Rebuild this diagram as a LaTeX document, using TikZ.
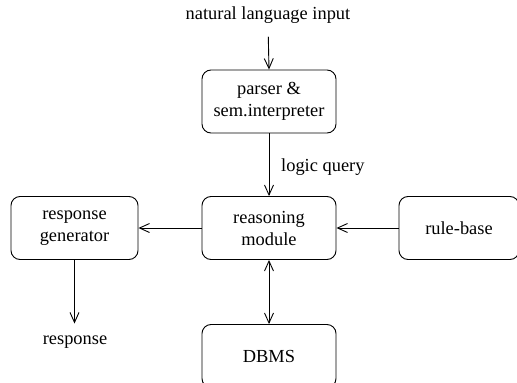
\documentclass[tikz,border=0pt]{standalone}
\usepackage{fontspec}
\setmainfont{Liberation Serif}
\usepackage{tikz}
\usetikzlibrary{arrows.meta}
\tikzstyle{box} = [draw, rounded corners=9pt, line width=0.9pt, minimum width=134pt,
	minimum height=63pt, align=center, inner sep=0pt]
\tikzstyle{arrow} = [line width=0.9pt, >={Straight Barb[length=10pt,width=9pt]}, ->]
\tikzstyle{darrow} = [arrow, <->]
\tikzstyle{label} = [inner sep=0pt]

\begin{document}
\begin{tikzpicture}[x=1pt,y=-1pt,font=\fontsize{18.4}{22}\selectfont]
	\useasboundingbox (0,0) rectangle (517,383);
	% boxes
	\node[box] (parser) at (269,101.5) {parser \&\\sem.interpreter};
	\node[box] (reason) at (269,228) {reasoning\\module};
	\node[box, minimum width=127pt] (gen) at (74.5,228) {response\\generator};
	\node[box, minimum width=120pt] (rule) at (459,228) {rule-base};
	\node[box] (dbms) at (269,356) {DBMS};

	% texts
	\node[label] (input) at (268,15) {natural language input};
	\node[label] (resp) at (75,342) {response};
	\node[label, anchor=west] (query) at (281,167) {logic query};

	% connectors
	\draw[arrow, shorten <=13pt] (input.south) -- (parser.north);
	\draw[arrow] (parser.south) -- (reason.north);
	\draw[arrow] (rule.west) -- (reason.east);
	\draw[arrow] (reason.west) -- (gen.east);
	\draw[arrow, shorten >=12pt] (gen.south) -- (gen.south |- resp.north);
	\draw[darrow] (reason.south) -- (dbms.north);
\end{tikzpicture}
\end{document}
